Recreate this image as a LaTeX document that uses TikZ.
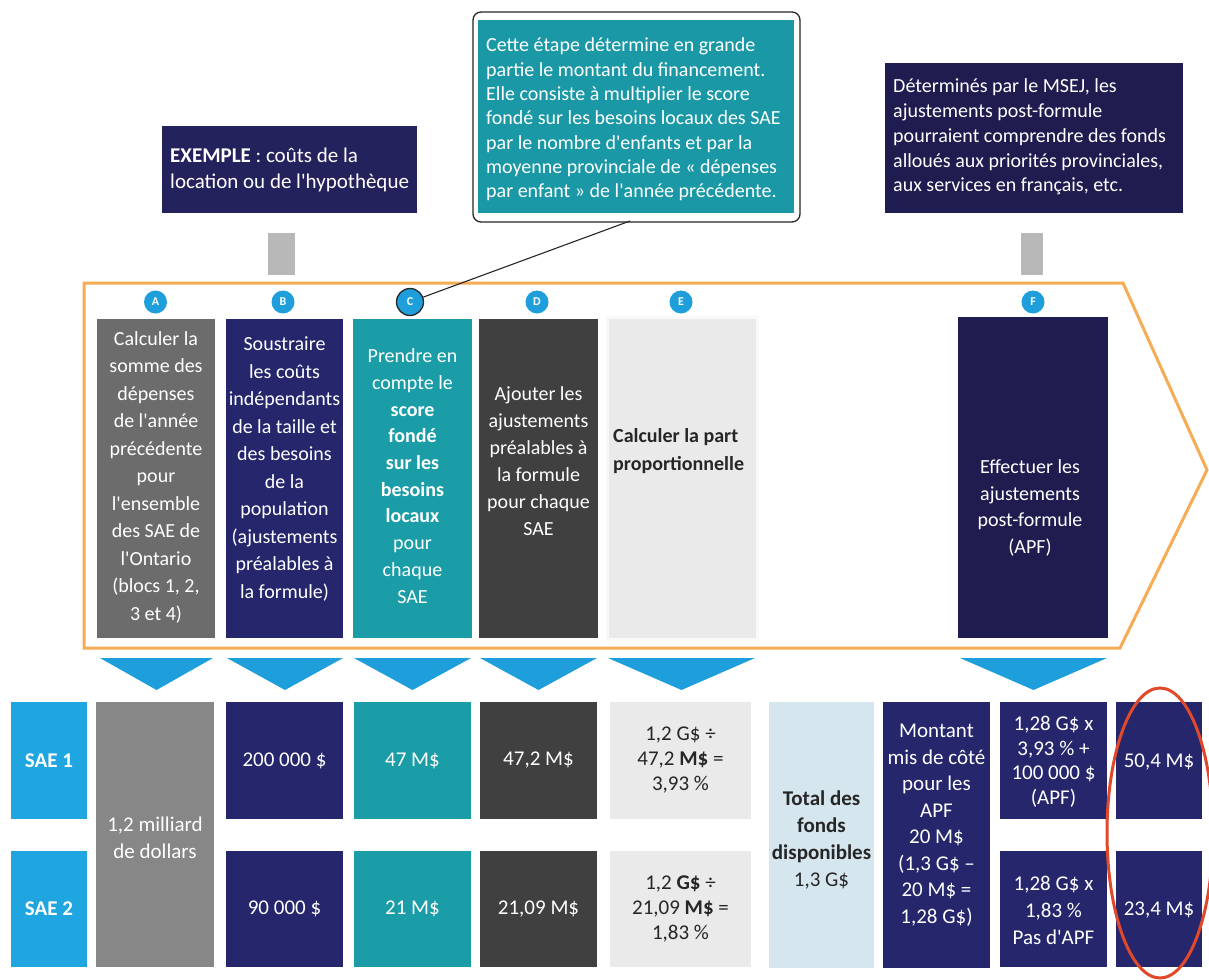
\documentclass[tikz,border=0pt]{standalone}
\usepackage{fontspec}
\setmainfont{Carlito}[Ligatures=TeXOff]
\definecolor{cgray}{HTML}{6C6C6C}
\definecolor{bgray}{HTML}{878787}
\definecolor{navy}{HTML}{26266D}
\definecolor{navyd}{HTML}{1F1C50}
\definecolor{navyc}{HTML}{24225C}
\definecolor{tealc}{HTML}{1B9DA8}
\definecolor{tealcall}{HTML}{1A98A6}
\definecolor{dgray}{HTML}{404040}
\definecolor{lgray}{HTML}{EAEAEA}
\definecolor{saec}{HTML}{1FA6E0}
\definecolor{totc}{HTML}{D6E6EE}
\definecolor{lblue}{HTML}{1E9FDB}
\definecolor{orangec}{HTML}{F5AC55}
\definecolor{redc}{HTML}{E04A2A}
\definecolor{darktxt}{HTML}{262626}
\definecolor{barg}{HTML}{B8B8B8}
\tikzset{
  box/.style={rectangle, inner sep=0pt, outer sep=0pt},
  coltxt/.style={text=white, align=center, inner sep=0pt, font=\fontsize{20}{27.5}\selectfont},
  celltxt/.style={text=white, align=center, inner sep=0pt, font=\fontsize{21}{26}\selectfont},
  calltxt/.style={text=white, align=left, inner sep=0pt, anchor=west, font=\fontsize{20}{24.3}\selectfont},
  letc/.style={circle, fill=lblue, text=white, inner sep=0pt, minimum size=23pt, font=\fontsize{12}{12}\selectfont\bfseries},
  chev/.style={fill=lblue},
}
\begin{document}
\begin{tikzpicture}[x=1pt,y=-1pt]
\useasboundingbox (0,0) rectangle (1209,979);
\fill[white] (0,0) rectangle (1209,979);

% ---------- top callouts ----------
\node[box, fill=navyc, minimum width=255pt, minimum height=87pt] (callA) at (289.5,169.5) {};
\node[calltxt, font=\fontsize{21}{26}\selectfont] (callAt) at (170,170) {\textbf{EXEMPLE} : coûts de la\\location ou de l'hypothèque};

\node[box, fill=barg, minimum width=27pt, minimum height=42pt] (barA) at (281.5,254) {};
\node[box, fill=barg, minimum width=22pt, minimum height=42pt] (barF) at (1032,254) {};

\node[box, draw=darktxt, line width=1.3pt, rounded corners=8pt, fill=white, minimum width=327pt, minimum height=210pt] (callC) at (636.5,117) {};
\node[box, fill=tealcall, minimum width=316pt, minimum height=193pt] (callCin) at (636,116.5) {};
\node[calltxt] (callCt) at (486,119.5) {Cette étape détermine en grande\\partie le montant du financement.\\Elle consiste à multiplier le score\\fondé sur les besoins locaux des SAE\\par le nombre d'enfants et par la\\moyenne provinciale de « dépenses\\par enfant » de l'année précédente.};

\node[box, fill=navyd, minimum width=298pt, minimum height=150pt] (callF) at (1034,138) {};
\node[calltxt, font=\fontsize{20}{24.8}\selectfont] (callFt) at (893,137) {Déterminés par le MSEJ, les\\ajustements post-formule\\pourraient comprendre des fonds\\alloués aux priorités provinciales,\\aux services en français, etc.};

% ---------- orange frame ----------
\draw[orangec, line width=3pt, line join=miter] (84,283) -- (1123,283) -- (1207,470) -- (1120,648) -- (84,648) -- cycle;

% ---------- step columns ----------
\node[box, fill=cgray, minimum width=118pt, minimum height=319pt] (colA) at (156,478.5) {};
\node[coltxt] (colAt) at (156,477) {Calculer la\\somme des\\dépenses\\de l'année\\précédente\\pour\\l'ensemble\\des SAE de\\l'Ontario\\(blocs 1, 2,\\3 et 4)};

\node[box, fill=navy, minimum width=117pt, minimum height=319pt] (colB) at (284.5,478.5) {};
\node[coltxt] (colBt) at (284.5,469) {Soustraire\\les coûts\\indépendants\\de la taille et\\des besoins\\de la\\population\\(ajustements\\préalables à\\la formule)};

\node[box, fill=tealc, minimum width=119pt, minimum height=319pt] (colC) at (412.5,478.5) {};
\node[coltxt, font=\fontsize{20}{26.7}\selectfont] (colCt) at (412.5,476) {Prendre en\\compte le\\\textbf{score}\\\textbf{fondé}\\\textbf{sur les}\\\textbf{besoins}\\\textbf{locaux}\\pour\\chaque\\SAE};

\node[box, fill=dgray, minimum width=119pt, minimum height=319pt] (colD) at (538.5,478.5) {};
\node[coltxt, font=\fontsize{20}{27}\selectfont] (colDt) at (538.5,461) {Ajouter les\\ajustements\\préalables à\\la formule\\pour chaque\\SAE};

\node[box, fill=lgray!30, minimum width=153pt, minimum height=325pt] (colEsh) at (682.5,478) {};
\node[box, fill=lgray, minimum width=147pt, minimum height=319pt] (colE) at (682.5,478.5) {};
\node[coltxt, text=darktxt, align=left, anchor=west, font=\fontsize{20}{28}\selectfont\bfseries] (colEt) at (613,451) {Calculer la part\\proportionnelle};

\node[box, fill=navyd, minimum width=150pt, minimum height=321pt] (colF) at (1033,477.5) {};
\node[coltxt, font=\fontsize{20}{26.7}\selectfont] (colFt) at (1030,508) {Effectuer les\\ajustements\\post-formule\\(APF)};

% ---------- letters ----------
\node[letc] (lA) at (155.5,302) {A};
\node[letc] (lB) at (283,302) {B};
\node[letc, draw=darktxt, line width=1.3pt, minimum size=27pt] (lC) at (410,302) {C};
\node[letc] (lD) at (537,302) {D};
\node[letc] (lE) at (681,302) {E};
\node[letc] (lF) at (1033,302) {F};

\coordinate (cpt) at (630,221);
\draw[darktxt, line width=1.1pt] (lC) -- (cpt);

% ---------- chevrons ----------
\fill[chev] (100,658) -- (213,658) -- (156.5,690) -- cycle;
\fill[chev] (227,658) -- (343,658) -- (285,690) -- cycle;
\fill[chev] (354,658) -- (471,658) -- (412.5,690) -- cycle;
\fill[chev] (480,658) -- (597,658) -- (538.5,690) -- cycle;
\fill[chev] (608,658) -- (755,658) -- (681.5,690) -- cycle;
\fill[chev] (960,658) -- (1107,658) -- (1033.5,690) -- cycle;

% ---------- bottom rows ----------
\node[box, fill=saec, minimum width=76pt, minimum height=117pt] (sae1) at (49,760.5) {};
\node[celltxt, font=\fontsize{21}{26}\selectfont\bfseries] (sae1t) at (49,760.5) {SAE 1};
\node[box, fill=saec, minimum width=76pt, minimum height=116pt] (sae2) at (49,909) {};
\node[celltxt, font=\fontsize{21}{26}\selectfont\bfseries] (sae2t) at (49,909) {SAE 2};

\node[box, fill=bgray, minimum width=118pt, minimum height=265pt] (tot12) at (155,834.5) {};
\node[celltxt, font=\fontsize{21}{27}\selectfont] (tot12t) at (155,838) {1,2 milliard\\de dollars};

\node[box, fill=navy, minimum width=117pt, minimum height=117pt] (b1) at (284.5,760.5) {};
\node[celltxt] (b1t) at (284.5,760.5) {200 000 \$};
\node[box, fill=navy, minimum width=117pt, minimum height=116pt] (b2) at (284.5,909) {};
\node[celltxt] (b2t) at (284.5,909) {90 000 \$};

\node[box, fill=tealc, minimum width=117pt, minimum height=117pt] (c1) at (412.5,760.5) {};
\node[celltxt] (c1t) at (412.5,760.5) {47 M\$};
\node[box, fill=tealc, minimum width=117pt, minimum height=116pt] (c2) at (412.5,909) {};
\node[celltxt] (c2t) at (412.5,909) {21 M\$};

\node[box, fill=dgray, minimum width=117pt, minimum height=117pt] (d1) at (538.5,760.5) {};
\node[celltxt] (d1t) at (538.5,760.5) {47,2 M\$};
\node[box, fill=dgray, minimum width=117pt, minimum height=116pt] (d2) at (538.5,909) {};
\node[celltxt] (d2t) at (538.5,909) {21,09 M\$};

\node[box, fill=lgray, minimum width=141pt, minimum height=117pt] (e1) at (680.5,760.5) {};
\node[celltxt, text=darktxt, font=\fontsize{21}{25}\selectfont] (e1t) at (680.5,760) {1,2 G\$ ÷\\47,2 \textbf{M\$} =\\3,93 \%};
\node[box, fill=lgray, minimum width=141pt, minimum height=116pt] (e2) at (680.5,909) {};
\node[celltxt, text=darktxt, font=\fontsize{21}{25}\selectfont] (e2t) at (680.5,909) {1,2 \textbf{G\$} ÷\\21,09 \textbf{M\$} =\\1,83 \%};

\node[box, fill=totc, minimum width=105pt, minimum height=266pt] (tot) at (821.5,835) {};
\node[celltxt, text=darktxt, font=\fontsize{21}{27}\selectfont] (tott) at (821.5,840) {\textbf{Total des}\\\textbf{fonds}\\\textbf{disponibles}\\1,3 G\$};

\node[box, fill=navy, minimum width=107pt, minimum height=266pt] (mont) at (936.5,835) {};
\node[celltxt, font=\fontsize{21}{26.5}\selectfont] (montt) at (936.5,825) {Montant\\mis de côté\\pour les\\APF\\20 M\$\\(1,3 G\$ –\\20 M\$ =\\1,28 G\$)};

\node[box, fill=navy, minimum width=107pt, minimum height=117pt] (f1) at (1053.5,760.5) {};
\node[celltxt, font=\fontsize{21}{24.5}\selectfont] (f1t) at (1053.5,762) {1,28 G\$ x\\3,93 \% +\\100 000 \$\\(APF)};
\node[box, fill=navy, minimum width=107pt, minimum height=116pt] (f2) at (1053.5,909) {};
\node[celltxt, font=\fontsize{21}{27}\selectfont] (f2t) at (1053.5,910) {1,28 G\$ x\\1,83 \%\\Pas d'APF};

\node[box, fill=navy, minimum width=86pt, minimum height=117pt] (g1) at (1159,760.5) {};
\node[celltxt] (g1t) at (1159,762) {50,4 M\$};
\node[box, fill=navy, minimum width=86pt, minimum height=116pt] (g2) at (1159,909) {};
\node[celltxt] (g2t) at (1159,910) {23,4 M\$};

% ---------- highlight ----------
\draw[redc, line width=3pt] (1160,833) ellipse [x radius=53pt, y radius=145pt];
\end{tikzpicture}
\end{document}
